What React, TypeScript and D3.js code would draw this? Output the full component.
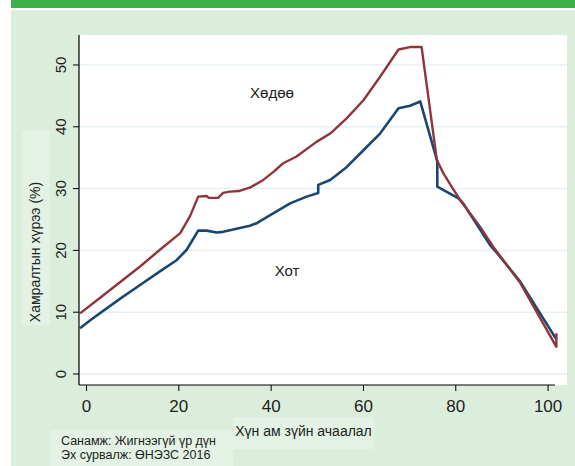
import React from "react";
import * as d3 from "d3";

// tick values
const xTicks = [0, 20, 40, 60, 80, 100];
const yTicks = [0, 10, 20, 30, 40, 50];

// Хөдөө (rural) - maroon
const ruralX = [-1.4, 5.1, 11.6, 15.9, 20.3, 22.4, 24.2, 26, 26.5, 28.5, 29.6, 31, 33, 35.5, 38.3, 40.5, 42.6, 45.5, 49.9, 52.8, 56.4, 60, 63.6, 67.6, 70.1, 72.6, 75.9, 77.3, 79.1, 80.9, 85.3, 88.1, 94, 101.8, 101.8];
const ruralY = [9.8, 13.6, 17.4, 20.1, 22.8, 25.5, 28.7, 28.8, 28.5, 28.5, 29.3, 29.5, 29.6, 30.2, 31.4, 32.7, 34.1, 35.2, 37.6, 38.9, 41.4, 44.3, 48.1, 52.5, 52.9, 52.9, 34.6, 32.5, 30.3, 28.2, 23.8, 20.6, 14.7, 4.4, 6.6];

// Хот (urban) - navy
const urbanX = [-1.4, 0.8, 7.3, 11.6, 15.9, 19.5, 21.7, 24.2, 26, 28.2, 29.6, 32.5, 35.4, 36.9, 39.8, 44.1, 47.7, 50.2, 50.2, 52.8, 56.4, 60, 63.6, 67.6, 70.1, 72.3, 76, 76, 80.6, 81.6, 87.4, 89.6, 94, 101.8];
const urbanY = [7.4, 8.7, 12.2, 14.4, 16.6, 18.4, 20.1, 23.2, 23.2, 22.9, 23.0, 23.5, 24.0, 24.4, 25.7, 27.6, 28.7, 29.3, 30.6, 31.4, 33.5, 36.2, 38.9, 43.0, 43.4, 44.1, 34.4, 30.3, 28.4, 27.6, 20.9, 19.0, 14.9, 5.6];

const W = 575;
const H = 466;
const plot = { left: 79, right: 567, top: 35, bottom: 385 };

const narrow = '"Liberation Sans Narrow", "Arial Narrow", "Liberation Sans", sans-serif';
const regular = '"Liberation Sans", Arial, sans-serif';

export default function App() {
  const x = d3.scaleLinear().domain([-1.63, 104.1]).range([plot.left, plot.right]);
  const y = d3.scaleLinear().domain([-1.78, 54.85]).range([plot.bottom, plot.top]);

  const line = d3
    .line<number>()
    .x(d => x(d[0]))
    .y(d => y(d[1]));

  const rural = ruralX.map((v, i) => [v, ruralY[i]]);
  const urban = urbanX.map((v, i) => [v, urbanY[i]]);

  return (
    <svg width={W} height={H} style={{ position: "absolute", left: 0, top: 0 }}>
      {/* header + background */}
      <rect x={11} y={0} width={W - 11} height={8} fill="#3eae4b" />
      <rect x={11} y={10} width={W - 11} height={H - 10} fill="#daeedb" />

      {/* plot region */}
      <rect x={plot.left} y={plot.top} width={plot.right - plot.left} height={plot.bottom - plot.top} fill="#ffffff" />
      {yTicks.map(t => (
        <line key={"g" + t} x1={plot.left} x2={plot.right} y1={y(t)} y2={y(t)} stroke="#e8eff3" strokeWidth={1.5} />
      ))}

      {/* series */}
      <path d={line(urban as any) || ""} fill="none" stroke="#1a476f" strokeWidth={2.6} strokeLinejoin="round" />
      <path d={line(rural as any) || ""} fill="none" stroke="#90353b" strokeWidth={2.4} strokeLinejoin="round" />

      {/* axes */}
      <line x1={plot.left} x2={plot.left} y1={plot.top} y2={plot.bottom} stroke="#000" strokeWidth={1.2} />
      <line x1={plot.left} x2={x(101.5)} y1={plot.bottom} y2={plot.bottom} stroke="#000" strokeWidth={1.2} />
      {yTicks.map(t => (
        <g key={"y" + t}>
          <line x1={plot.left - 6} x2={plot.left} y1={y(t)} y2={y(t)} stroke="#000" strokeWidth={1} />
          <text
            transform={`translate(65.5,${y(t)}) rotate(-90)`}
            textAnchor="middle"
            fontFamily={narrow}
            fontSize={15}
            fill="#222"
          >
            {t}
          </text>
        </g>
      ))}
      {xTicks.map(t => (
        <g key={"x" + t}>
          <line x1={x(t)} x2={x(t)} y1={plot.bottom} y2={plot.bottom + 6} stroke="#000" strokeWidth={1} />
          <text x={x(t)} y={411.5} textAnchor="middle" fontFamily={narrow} fontSize={17} fill="#222">
            {t}
          </text>
        </g>
      ))}

      {/* axis titles */}
      <rect x={22} y={130} width={28} height={195} fill="#e3f2e4" />
      <text
        transform={`translate(40,252) rotate(-90)`}
        textAnchor="middle"
        fontFamily={narrow}
        fontSize={14}
        fill="#222"
      >
        Хамралтын хүрээ (%)
      </text>
      <rect x={233} y={417} width={141} height={32} fill="#e3f2e4" />
      <text x={303.5} y={436} textAnchor="middle" fontFamily={narrow} fontSize={14} fill="#222">
        Хүн ам зүйн ачаалал
      </text>

      {/* series labels */}
      <text x={272} y={98} textAnchor="middle" fontFamily={regular} fontSize={15} fill="#222">
        Хөдөө
      </text>
      <text x={287} y={276} textAnchor="middle" fontFamily={regular} fontSize={15} fill="#222">
        Хот
      </text>

      {/* note box */}
      <rect x={50} y={430} width={183} height={36} fill="#e3f2e4" />
      <text x={61} y={444.5} fontFamily={narrow} fontSize={12.5} fill="#222">
        Санамж: Жигнээгүй үр дүн
      </text>
      <text x={61} y={458.5} fontFamily={narrow} fontSize={12.5} fill="#222">
        Эх сурвалж: ӨНЭЗС 2016
      </text>
    </svg>
  );
}
